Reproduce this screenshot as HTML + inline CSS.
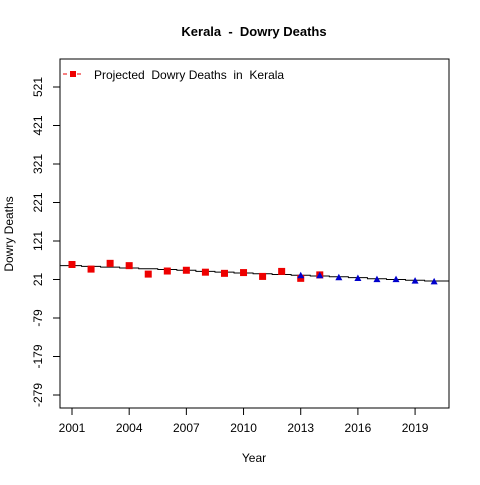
<!DOCTYPE html>
<html><head><meta charset="utf-8"><style>
body{margin:0;background:#fff}
svg text{font-family:"Liberation Sans",Arial,sans-serif;fill:#000;white-space:pre}
</style></head><body>
<svg id="c" width="480" height="480" xmlns="http://www.w3.org/2000/svg">
<rect width="480" height="480" fill="#fff"/>
<text x="254" y="36" font-size="13" font-weight="bold" text-anchor="middle">Kerala  -  Dowry Deaths</text>
<rect x="60" y="59" width="389" height="349" fill="none" stroke="#000"/>
<text x="254" y="462" font-size="12" text-anchor="middle">Year</text>
<text transform="translate(13,234) rotate(-90)" font-size="12" text-anchor="middle">Dowry Deaths</text>
<g>
<line x1="63" y1="74" x2="83" y2="74" stroke="#e00" stroke-dasharray="4,3"/>
<rect x="70" y="71" width="6" height="6" fill="#e00"/>
<text x="94" y="79" font-size="12">Projected  Dowry Deaths  in  Kerala</text>
</g>
<g id="ax"></g><g id="marks"></g>
</svg>
<script>
const years=[2001,2002,2003,2004,2005,2006,2007,2008,2009,2010,2011,2012,2013,2014];
const actual=[60,48,63,57,35,43,45,40,37,39,29,42,24,33];
const projYears=[2013,2014,2015,2016,2017,2018,2019,2020];
const projected=[32,32,27,25,22,22,18,16];
const fitYears=[2001,2002,2003,2004,2005,2006,2007,2008,2009,2010,2011,2012,2013,2014,2015,2016,2017,2018,2019,2020];
const fitted=[57,55,53,51,49,47,45,42,40,38,36,34,32,30,28,26,23,21,19,17];
const xTicks=[2001,2004,2007,2010,2013,2016,2019];
const yTicks=[-279,-179,-79,21,121,221,321,421,521];
const NS="http://www.w3.org/2000/svg";
const X=v=>72+(v-2001)*19.06;
const Y=v=>279.5-(v-21)*0.385;
function mk(t,a,p){const e=document.createElementNS(NS,t);for(const k in a)e.setAttribute(k,a[k]);p.appendChild(e);return e;}
const ax=document.getElementById('ax'),mg=document.getElementById('marks');
xTicks.forEach(v=>{mk('line',{x1:X(v),x2:X(v),y1:408,y2:415,stroke:'#000'},ax);
const t=mk('text',{x:X(v),y:432,'font-size':12,'text-anchor':'middle'},ax);t.textContent=v;

});
yTicks.forEach(v=>{mk('line',{x1:53,x2:60,y1:Y(v),y2:Y(v),stroke:'#000'},ax);
const t=mk('text',{transform:`translate(42,${Y(v)}) rotate(-90)`,'font-size':12,'text-anchor':'middle'},ax);t.textContent=v;

});
let d='';
fitYears.forEach((y,i)=>{const x0=i==0?60:X(y)-9.5,x1=i==fitYears.length-1?449:X(y)+9.5;d+=(i==0?'M':'L')+x0+','+Y(fitted[i])+'L'+x1+','+Y(fitted[i]);});
const ln=mk('path',{d:d,fill:'none',stroke:'#000','stroke-width':1},mg);


years.forEach((y,i)=>{const r=mk('rect',{x:X(y)-3.5,y:Y(actual[i])-3.5,width:7,height:7,fill:'#e00'},mg);

});
projYears.forEach((y,i)=>{const x=X(y),yy=Y(projected[i]);const p=mk('polygon',{points:`${x-3.5},${yy+3} ${x+3.5},${yy+3} ${x},${yy-3.5}`,fill:'#00c'},mg);

});
</script>
</body></html>
